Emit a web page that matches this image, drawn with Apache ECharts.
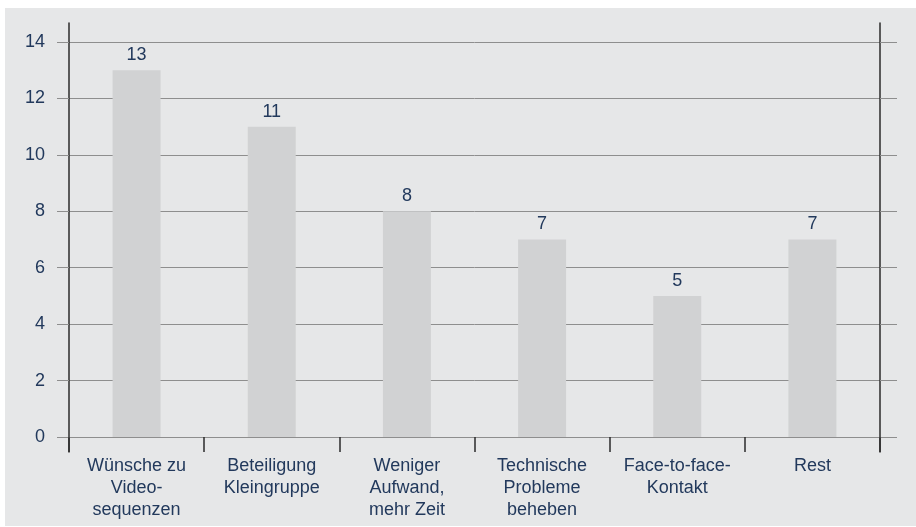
<!DOCTYPE html>
<html>
<head>
<meta charset="utf-8">
<script src="https://cdn.jsdelivr.net/npm/echarts@6/dist/echarts.min.js"></script>
<style>
html,body{margin:0;padding:0;background:#ffffff;}
#bg{position:absolute;left:5px;top:8px;width:911px;height:518px;background:#e6e7e8;}
#chart{width:911px;height:518px;}
</style>
</head>
<body>
<div id="bg"><div id="chart"></div></div>
<script>
var categories = ['Wünsche zu\nVideo-\nsequenzen', 'Beteiligung\nKleingruppe', 'Weniger\nAufwand,\nmehr Zeit', 'Technische\nProbleme\nbeheben', 'Face-to-face-\nKontakt', 'Rest'];
var values = [13, 11, 8, 7, 5, 7];
var yTicks = [0, 2, 4, 6, 8, 10, 12, 14];

var textColor = '#22395c';
var gridColor = '#8e8e8e';
var axisColor = '#2b2b2b';
var fontFamily = '"Liberation Sans", Arial, Helvetica, sans-serif';

var chart = echarts.init(document.getElementById('chart'), null, {renderer: 'canvas'});
chart.setOption({
  animation: false,
  backgroundColor: 'transparent',
  grid: [
    {left: 64, right: 36, top: 34, bottom: 89},
    {left: 64, right: 36, top: 15, bottom: 74}
  ],
  xAxis: [
    {
      type: 'category', gridIndex: 0, data: categories, boundaryGap: true,
      axisLine: {show: true, lineStyle: {color: gridColor, width: 1}},
      axisTick: {show: true, length: 15, alignWithLabel: false, lineStyle: {color: axisColor, width: 1.5}},
      axisLabel: {color: textColor, fontSize: 18, lineHeight: 22, margin: 18, fontFamily: fontFamily, interval: 0, align: 'center'}
    },
    {type: 'value', gridIndex: 1, min: 0, max: 1, show: false}
  ],
  yAxis: [
    {
      type: 'value', gridIndex: 0, min: yTicks[0], max: yTicks[yTicks.length - 1], interval: 2,
      axisLine: {show: false},
      axisTick: {show: true, length: 12, lineStyle: {color: gridColor, width: 1}},
      splitLine: {show: true, lineStyle: {color: gridColor, width: 1}},
      axisLabel: {color: textColor, fontSize: 18, margin: 24, fontFamily: fontFamily}
    },
    {
      type: 'value', gridIndex: 0, position: 'right', min: yTicks[0], max: yTicks[yTicks.length - 1], interval: 2,
      axisLine: {show: false},
      axisTick: {show: true, length: 17, lineStyle: {color: gridColor, width: 1}},
      splitLine: {show: false},
      axisLabel: {show: false}
    },
    {
      type: 'value', gridIndex: 1, min: 0, max: 1, position: 'left',
      axisLine: {show: true, lineStyle: {color: axisColor, width: 1.5}},
      axisTick: {show: false}, splitLine: {show: false}, axisLabel: {show: false}
    },
    {
      type: 'value', gridIndex: 1, min: 0, max: 1, position: 'right',
      axisLine: {show: true, lineStyle: {color: axisColor, width: 1.5}},
      axisTick: {show: false}, splitLine: {show: false}, axisLabel: {show: false}
    }
  ],
  series: [{
    type: 'bar',
    xAxisIndex: 0, yAxisIndex: 0,
    data: values,
    barWidth: '35.5%',
    itemStyle: {color: '#d1d2d3'},
    label: {show: true, position: 'top', distance: 6, color: textColor, fontSize: 18, fontFamily: fontFamily}
  }]
});
</script>
</body>
</html>
